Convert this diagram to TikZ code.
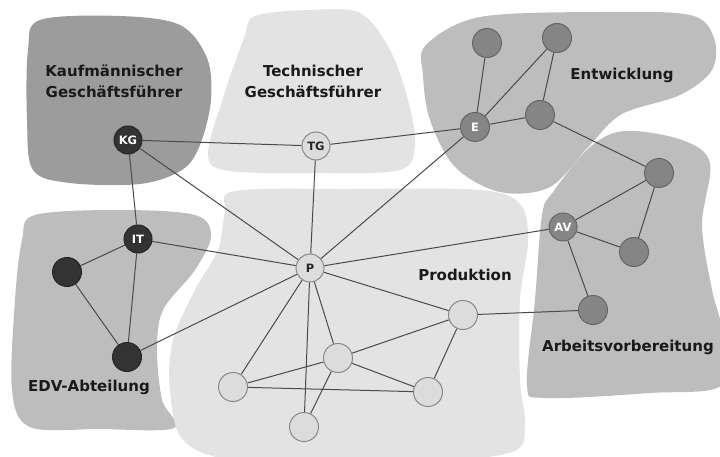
\documentclass[tikz,border=0pt]{standalone}
\usepackage{fontspec}
\setmainfont{DejaVu Sans}
\definecolor{cdark}{HTML}{333333}
\definecolor{cdarkb}{HTML}{262626}
\definecolor{cmid}{HTML}{858585}
\definecolor{cmidb}{HTML}{666666}
\definecolor{clight}{HTML}{DCDCDC}
\definecolor{clightb}{HTML}{888888}
\definecolor{cedge}{HTML}{4A4A4A}
\definecolor{bkg}{HTML}{9C9C9C}
\definecolor{bmid}{HTML}{BDBDBD}
\definecolor{blight}{HTML}{E3E3E3}
\pgfdeclarelayer{blobs}
\pgfdeclarelayer{edges}
\pgfsetlayers{blobs,edges,main}
\begin{document}
\begin{tikzpicture}[x=1pt,y=-1pt,
  nd/.style={circle, inner sep=0pt, minimum size=28pt, line width=1pt, font=\bfseries\fontsize{11.5}{12}\selectfont},
  ndbig/.style={nd, minimum size=29pt},
  dark/.style={nd, fill=cdark, draw=cdarkb, text=white},
  mid/.style={nd, fill=cmid, draw=cmidb, text=white},
  light/.style={nd, fill=clight, draw=clightb, text=black!85},
  edge/.style={draw=cedge, line width=1pt},
  blob/.style={smooth cycle, tension=0.55},
  lbl/.style={font=\bfseries\fontsize{15}{21}\selectfont, align=center, text=black!90, inner sep=0pt}]
\useasboundingbox (0,0) rectangle (720,457);
% nodes
\node[dark] (KG) at (128,140) {KG};
\node[dark] (IT) at (138,239) {IT};
\node[dark,ndbig] (D1) at (67,272) {};
\node[dark,ndbig] (D2) at (127,357) {};
\node[light] (TG) at (316,146) {TG};
\node[light] (P) at (310,268) {P};
\node[mid,ndbig] (E) at (475,127) {E};
\node[mid,ndbig] (E1) at (487,43) {};
\node[mid,ndbig] (E2) at (557,38) {};
\node[mid,ndbig] (E3) at (540,115) {};
\node[mid,ndbig] (A1) at (659,173) {};
\node[mid] (AV) at (563,227) {AV};
\node[mid,ndbig] (A2) at (634,252) {};
\node[mid,ndbig] (A3) at (593,310) {};
\node[light,ndbig] (P1) at (463,315) {};
\node[light,ndbig] (P2) at (338,358) {};
\node[light,ndbig] (P3) at (233,387) {};
\node[light,ndbig] (P4) at (428,392) {};
\node[light,ndbig] (P5) at (304,427) {};
% labels
\node[lbl] (lkg) at (114,81) {Kaufmännischer\\Geschäftsführer};
\node[lbl] (ltg) at (313,81) {Technischer\\Geschäftsführer};
\node[lbl] (le) at (622,75) {Entwicklung};
\node[lbl] (lp) at (465,275) {Produktion};
\node[lbl] (lav) at (628,347) {Arbeitsvorbereitung};
\node[lbl] (ledv) at (89,387) {EDV-Abteilung};
% edges
\begin{pgfonlayer}{edges}
\foreach \a/\b in {KG/TG, TG/E, KG/IT, KG/P, TG/P, E/P, E/E1, E/E2, E/E3, E2/E3, E3/A1, A1/AV, A1/A2, AV/A2, AV/A3, AV/P, A3/P1, IT/P, IT/D1, IT/D2, D1/D2, D2/P, P/P1, P/P2, P/P3, P/P5, P1/P2, P1/P4, P2/P4, P2/P3, P2/P5, P3/P4}
  \draw[edge] (\a) -- (\b);
\end{pgfonlayer}
% blobs
\begin{pgfonlayer}{blobs}
\fill[white] (0,0) rectangle (720,457);
\clip (0,0) rectangle (720,457);
\fill[bkg] plot[blob] coordinates {(40,20) (120,16) (180,25) (207,58) (211,100) (200,145) (182,170) (140,184) (70,183) (33,170) (27,120) (28,50)};
\fill[blight] plot[blob] coordinates {(255,16) (310,10) (360,13) (390,50) (408,100) (415,145) (400,170) (320,173) (230,171) (208,155) (224,95) (244,38)};
\fill[bmid] plot[blob] coordinates {(426,45) (480,17) (600,12) (690,15) (714,38) (712,70) (680,95) (622,114) (590,145) (550,187) (500,192) (455,167) (430,120) (423,75)};
\fill[bmid] plot[blob] coordinates {(553,192) (590,147) (625,131) (682,140) (710,163) (702,225) (712,290) (722,330) (722,385) (650,393) (545,398) (527,385) (535,300) (542,215)};
\fill[bmid] plot[blob] coordinates {(35,215) (120,210) (195,215) (211,236) (195,270) (163,310) (157,350) (162,400) (174,428) (100,429) (30,427) (12,390) (15,300) (22,240)};
\fill[blight] plot[blob] coordinates {(235,191) (350,189) (480,190) (520,204) (528,240) (520,300) (520,380) (525,425) (512,452) (420,462) (250,462) (185,442) (170,390) (173,340) (195,290) (218,250) (225,212)};
\end{pgfonlayer}
\end{tikzpicture}
\end{document}
